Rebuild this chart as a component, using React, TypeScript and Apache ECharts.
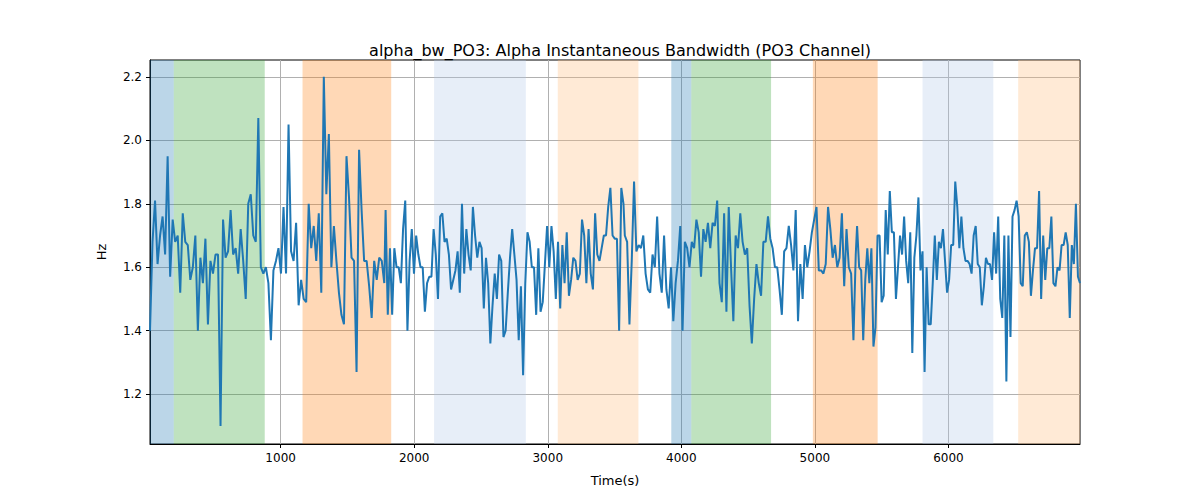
import { useEffect, useRef } from "react";
import * as echarts from "echarts";

const seg1Range: [number, number] = [22, 1776];
const seg1: number[] = [
  1.40, 1.68, 1.81, 1.61, 1.70, 1.76, 1.64, 1.95, 1.57,
  1.75, 1.68, 1.70, 1.52, 1.77, 1.68, 1.67, 1.56, 1.60, 1.70, 1.40, 1.63, 1.55, 1.69, 1.42, 1.62, 1.58, 1.64, 1.64, 1.10,
  1.75, 1.63, 1.65, 1.78, 1.64, 1.66, 1.58, 1.72, 1.62, 1.50, 1.80, 1.83, 1.70, 1.68, 2.07, 1.60, 1.58, 1.60, 1.55, 1.37,
  1.59, 1.62, 1.66, 1.58, 1.79, 1.58, 2.05, 1.65, 1.62, 1.74, 1.48, 1.56, 1.50, 1.49, 1.80, 1.66, 1.73, 1.62, 1.77, 1.52,
  2.20, 1.83, 2.02, 1.60, 1.73, 1.62, 1.52, 1.45, 1.42, 1.95, 1.82, 1.63, 1.62, 1.27, 1.97, 1.78, 1.62, 1.62, 1.54, 1.44,
  1.62, 1.56, 1.63, 1.62, 1.55,
];
const seg2Range: [number, number] = [1786, 3567];
const seg2: number[] = [
  1.78, 1.45, 1.66, 1.45, 1.66, 1.60, 1.60, 1.55, 1.72, 1.81, 1.40, 1.62, 1.72, 1.58, 1.70, 1.64, 1.60, 1.60, 1.46, 1.55,
  1.57, 1.57, 1.72, 1.64, 1.50, 1.76, 1.77, 1.68, 1.69, 1.64, 1.53, 1.56, 1.59, 1.65, 1.52, 1.80, 1.58, 1.72, 1.64, 1.59,
  1.79, 1.70, 1.63, 1.68, 1.66, 1.47, 1.63, 1.55, 1.36, 1.48, 1.58, 1.50, 1.64, 1.62, 1.38, 1.40, 1.52, 1.63, 1.72, 1.64,
  1.56, 1.37, 1.54, 1.26, 1.55, 1.71, 1.68, 1.60, 1.60, 1.45, 1.66, 1.46, 1.49, 1.61, 1.73, 1.60, 1.73, 1.65, 1.50, 1.68,
  1.47, 1.67, 1.55, 1.71, 1.51, 1.56, 1.63, 1.62, 1.56, 1.58, 1.75, 1.70, 1.55, 1.72, 1.58, 1.53, 1.77, 1.64, 1.62, 1.66,
  1.70, 1.70, 1.79, 1.85, 1.70, 1.69, 1.69, 1.40, 1.85, 1.80,
];
const seg3Range: [number, number] = [3577, 5306];
const seg3: number[] = [
  1.70, 1.68, 1.42, 1.62, 1.87, 1.65, 1.67, 1.66, 1.70, 1.58, 1.53, 1.52, 1.64, 1.60, 1.76, 1.58, 1.52, 1.70, 1.53, 1.47,
  1.60, 1.43, 1.55, 1.62, 1.73, 1.40, 1.68, 1.66, 1.60, 1.68, 1.66, 1.75, 1.71, 1.57, 1.72, 1.68, 1.74, 1.66, 1.74, 1.73,
  1.81, 1.55, 1.49, 1.77, 1.46, 1.79, 1.60, 1.43, 1.70, 1.66, 1.77, 1.68, 1.64, 1.66, 1.48, 1.36, 1.50, 1.61, 1.55, 1.51,
  1.68, 1.68, 1.76, 1.69, 1.66, 1.60, 1.60, 1.53, 1.45, 1.65, 1.66, 1.73, 1.67, 1.59, 1.78, 1.43, 1.61, 1.50, 1.67, 1.60,
  1.65, 1.71, 1.75, 1.79, 1.59, 1.59, 1.58, 1.61, 1.79, 1.72, 1.63, 1.67, 1.60, 1.63, 1.77, 1.54, 1.72, 1.60, 1.58, 1.37,
  1.64,
];
const seg4Range: [number, number] = [5316, 6985];
const seg4: number[] = [
  1.73, 1.60, 1.59, 1.37, 1.56, 1.66, 1.55, 1.66, 1.35, 1.41, 1.70, 1.70, 1.49, 1.51, 1.78, 1.64, 1.84, 1.71, 1.71,
  1.50, 1.60, 1.70, 1.64, 1.76, 1.62, 1.55, 1.71, 1.33, 1.63, 1.70, 1.82, 1.59, 1.65, 1.27, 1.60, 1.42, 1.42, 1.55, 1.70,
  1.56, 1.68, 1.66, 1.72, 1.62, 1.52, 1.56, 1.67, 1.67, 1.87, 1.79, 1.66, 1.76, 1.66, 1.62, 1.62, 1.61, 1.58, 1.70, 1.73,
  1.61, 1.60, 1.48, 1.54, 1.63, 1.61, 1.61, 1.56, 1.71, 1.58, 1.76, 1.50, 1.44, 1.70, 1.24, 1.70, 1.38, 1.76, 1.78, 1.81,
  1.76, 1.55, 1.54, 1.70, 1.71, 1.68, 1.51, 1.59, 1.66, 1.66, 1.84, 1.50, 1.70, 1.56, 1.66, 1.66, 1.76, 1.55, 1.54, 1.60,
  1.59, 1.67, 1.67, 1.71, 1.67, 1.44, 1.67, 1.61, 1.80, 1.57, 1.55,
];

// [start, end, colour, opacity]
const spans: [number, number, string, number][] = [
  [22, 200, "#1f77b4", 0.3],
  [200, 881, "#2ca02c", 0.3],
  [1164, 1828, "#ff7f0e", 0.3],
  [2149, 2836, "#aec7e8", 0.3],
  [3075, 3679, "#ffbb78", 0.3],
  [3925, 4075, "#1f77b4", 0.3],
  [4075, 4672, "#2ca02c", 0.3],
  [4985, 5470, "#ff7f0e", 0.3],
  [5806, 6336, "#aec7e8", 0.3],
  [6522, 6985, "#ffbb78", 0.3],
];

const xTicks = [1000, 2000, 3000, 4000, 5000, 6000];
const yTicks = [1.2, 1.4, 1.6, 1.8, 2.0, 2.2];

function place(vals: number[], [a, b]: [number, number]) {
  const step = (b - a) / (vals.length - 1);
  return vals.map((v, i) => [a + i * step, v]);
}

export default function App() {
  const ref = useRef<HTMLDivElement>(null);

  useEffect(() => {
    if (!ref.current) return;
    const chart = echarts.init(ref.current, undefined, { renderer: "svg" });
    const data = [
      ...place(seg1, seg1Range),
      ...place(seg2, seg2Range),
      ...place(seg3, seg3Range),
      ...place(seg4, seg4Range),
    ];
    const font = "DejaVu Sans";

    chart.setOption({
      animation: false,
      textStyle: { fontFamily: font },
      title: {
        text: "alpha_bw_PO3: Alpha Instantaneous Bandwidth (PO3 Channel)",
        left: 607,
        top: 29,
        textAlign: "center",
        textStyle: { fontFamily: font, fontSize: 16, fontWeight: "normal", color: "#000" },
      },
      grid: { left: 142, right: 112, top: 52, bottom: 47, show: true, borderColor: "#000", borderWidth: 1 },
      xAxis: {
        type: "value",
        min: 22,
        max: 6985,
        name: "Time(s)",
        nameLocation: "middle",
        nameGap: 30,
        nameTextStyle: { fontSize: 13, color: "#000" },
        axisLine: { onZero: false, lineStyle: { color: "#000" } },
        axisTick: { customValues: xTicks, length: 4, lineStyle: { color: "#000" } },
        axisLabel: { customValues: xTicks, color: "#000", fontSize: 12, formatter: (v: number) => String(v) },
        splitLine: { show: true, lineStyle: { color: "#b0b0b0", width: 1 } },
      },
      yAxis: {
        type: "value",
        min: 1.043,
        max: 2.253,
        name: "Hz",
        nameLocation: "middle",
        nameGap: 42,
        nameTextStyle: { fontSize: 13, color: "#000" },
        axisLine: { show: true, lineStyle: { color: "#000" } },
        axisTick: { show: true, customValues: yTicks, length: 4, lineStyle: { color: "#000" } },
        axisLabel: { customValues: yTicks, color: "#000", fontSize: 12, formatter: (v: number) => v.toFixed(1) },
        splitLine: { show: true, lineStyle: { color: "#b0b0b0", width: 1 } },
      },
      series: [
        {
          type: "line",
          data,
          symbol: "none",
          lineStyle: { color: "#1f77b4", width: 2 },
          z: 3,
          markArea: {
            silent: true,
            data: spans.map(([a, b, c, o]) => [
              { xAxis: a, itemStyle: { color: c, opacity: o } },
              { xAxis: b },
            ]),
          },
        },
      ],
    });
    return () => chart.dispose();
  }, []);

  return <div ref={ref} style={{ width: 1184, height: 484 }} />;
}
